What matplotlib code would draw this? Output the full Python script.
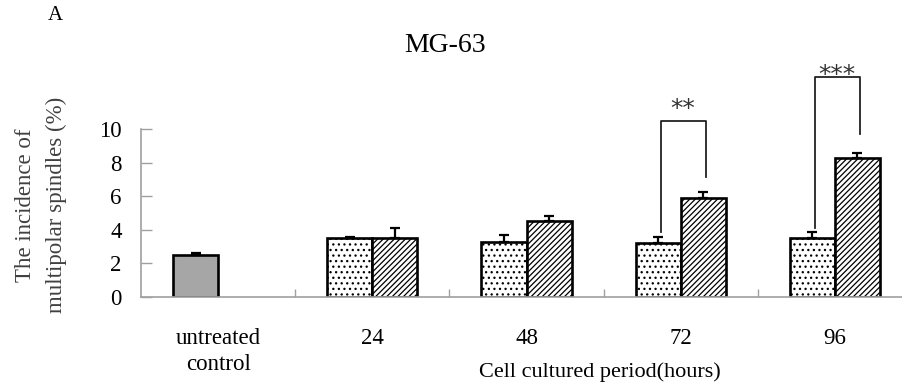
import matplotlib
matplotlib.use("Agg")
import matplotlib.pyplot as plt
import numpy as np

plt.rcParams['font.family'] = ['Liberation Serif', 'DejaVu Serif']
plt.rcParams['hatch.linewidth'] = 0.9

# ---- data ----
categories = ["untreated\ncontrol", "24", "48", "72", "96"]
control_value = 2.5
control_err = 0.1
dotted_values = [3.5, 3.3, 3.2, 3.5]
dotted_err = [0.05, 0.4, 0.4, 0.35]
hatched_values = [3.5, 4.5, 5.9, 8.25]
hatched_err = [0.6, 0.3, 0.35, 0.3]
# significance brackets: (group index, left leg bottom, right leg bottom, top, star centre, label)
brackets = [(3, 3.87, 7.14, 10.5, 11.55, "**"), (4, 4.1, 9.7, 13.1, 13.6, "***")]

W, H = 902, 392
fig = plt.figure(figsize=(W / 100, H / 100), dpi=100)
ax = fig.add_axes([141 / W, (H - 297) / H, 771 / W, 168 / H])

w = 0.292
gx = np.arange(1, 5)

ax.bar(0 - w / 2, control_value, width=w, color='#a6a6a6', edgecolor='black', linewidth=1.9, zorder=2)
ax.bar(gx - w / 2, dotted_values, width=w, color='white', edgecolor='black', hatch='...', linewidth=1.9, zorder=2)
ax.bar(gx + w / 2, hatched_values, width=w, color='white', edgecolor='black', hatch='//////', linewidth=1.9, zorder=2)

ex = np.concatenate([[0 - w / 2], gx - w / 2, gx + w / 2])
ey = np.concatenate([[control_value], dotted_values, hatched_values])
ee = np.concatenate([[control_err], dotted_err, hatched_err])
ax.errorbar(ex, ey, yerr=[np.zeros_like(ee), ee], fmt='none', ecolor='black',
            elinewidth=1.6, capsize=3.4, capthick=1.6, zorder=3)

for gi, lb, rb, top, sy, lab in brackets:
    xl = gi - w / 2 + 0.02
    xr = gi + w / 2 + 0.02
    ax.plot([xl, xl, xr, xr], [lb, top, top, rb], color='#222222', lw=1.3, clip_on=False, zorder=4)
    # asterisk glyph sits ~0.55em above baseline; place baseline so glyph centre is at sy
    ax.annotate(lab, xy=((xl + xr) / 2 - 0.01, sy), xytext=(0, -9.5), textcoords='offset points',
                ha='center', va='baseline', fontsize=18, family='DejaVu Sans',
                color='#333333', annotation_clip=False)

ax.set_xlim(-0.5, 4.5)
ax.set_ylim(0, 10)
ax.set_yticks([0, 2, 4, 6, 8, 10])
ax.set_xticks(range(5))
ax.set_xticklabels(categories, fontsize=16.5, linespacing=1.35)
ax.set_xticks([0.5, 1.5, 2.5, 3.5], minor=True)
ax.tick_params(axis='x', which='major', length=0, pad=22)
ax.tick_params(axis='x', which='minor', direction='in', length=6, color='#a0a0a0', width=1.0)
ax.tick_params(axis='y', direction='in', length=8, color='#a0a0a0', width=1.0, pad=14, labelsize=16.5)
for s in ['top', 'right']:
    ax.spines[s].set_visible(False)
for s in ['left', 'bottom']:
    ax.spines[s].set_color('#a0a0a0')
    ax.spines[s].set_linewidth(1.2)

fig.text(41 / W, 1 - 205 / H, "The incidence of\nmultipolar spindles (%)", rotation=90,
         ha='center', va='center', multialignment='center', fontsize=16.5, linespacing=1.55, color='#404040')
fig.text(445 / W, 1 - 45 / H, "MG-63", ha='center', va='center', fontsize=20)
fig.text(55 / W, 1 - 16 / H, "A", ha='center', va='center', fontsize=15)
fig.text(600 / W, 1 - 372 / H, "Cell cultured period(hours)", ha='center', va='center', fontsize=16)

fig.savefig("out.png", dpi=100)
